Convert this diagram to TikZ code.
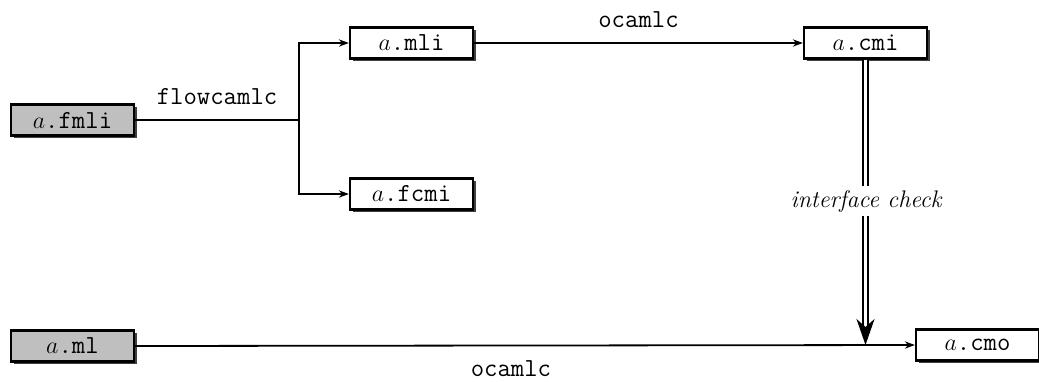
\documentclass[tikz,border=0pt]{standalone}
\usetikzlibrary{shadows,arrows.meta}
\begin{document}
\begin{tikzpicture}[x=0.5pt,y=-0.5pt,
  file/.style={draw=black, line width=1.1pt, fill=white, minimum width=61.5pt, minimum height=15.5pt,
    inner sep=0pt, font=\fontsize{13}{15}\selectfont\ttfamily,
    general shadow={fill=black!75, shadow xshift=1.4pt, shadow yshift=-1.4pt}},
  src/.style={file, fill=black!25},
  conn/.style={line width=0.9pt},
  arr/.style={conn, -{Stealth[length=5pt,width=3.6pt,inset=1.6pt]}},
  lbl/.style={font=\fontsize{13}{15}\selectfont\ttfamily},
  chk/.style={font=\fontsize{12}{14}\selectfont\itshape, fill=white, inner sep=2pt}
]
\useasboundingbox (0,0) rectangle (1039,381);
\node[src]  (fmli) at (72.5,120) {$a$.fmli};
\node[src]  (ml)   at (72.5,346) {$a$.ml};
\node[file] (mli)  at (411.5,43) {$a$.mli};
\node[file] (fcmi) at (411.5,194) {$a$.fcmi};
\node[file] (cmi)  at (865.5,43) {$a$.cmi};
\node[file] (cmo)  at (977.5,345) {$a$.cmo};
\coordinate (j) at (299,120);
\coordinate (m) at (cmi.south |- cmo.west);
\draw[conn] (fmli.east) -- node[lbl, midway, above, yshift=4pt] (flbl) {flowcamlc} (j);
\draw[arr] (j) |- (mli.west);
\draw[arr] (j) |- (fcmi.west);
\draw[arr] (mli.east) -- node[lbl, midway, above, yshift=4pt] (o1) {ocamlc} (cmi.west);
\draw[arr] (ml.east) -- node[lbl, pos=0.482, below, yshift=-4pt] (o2) {ocamlc} (cmo.west);
\draw[line width=0.8pt, double distance=1.6pt, -{Stealth[length=13pt,width=9pt,inset=4pt]}] (cmi.south) -- (m);
\node[chk] (ic) at (866,201) {interface check};
\end{tikzpicture}
\end{document}
